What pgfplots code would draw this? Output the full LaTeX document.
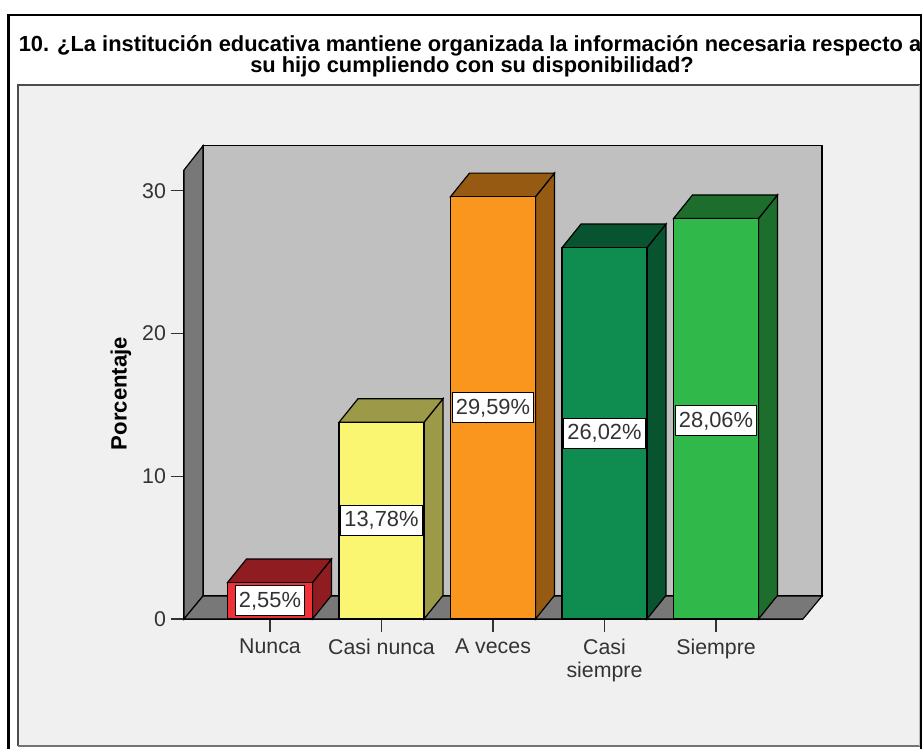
\documentclass[border=0pt]{standalone}
\usepackage{pgfplots}
\pgfplotsset{compat=1.18}
\usepackage{fontspec}
\setmainfont{Liberation Sans}
\definecolor{panel}{HTML}{F0F0F0}
\definecolor{wall}{HTML}{C0C0C0}
\definecolor{floorc}{HTML}{787878}
\definecolor{txt}{HTML}{333333}
\definecolor{redF}{HTML}{F03238}\definecolor{redS}{HTML}{8E1C20}
\definecolor{yelF}{HTML}{FBF672}\definecolor{yelS}{HTML}{9C9A48}
\definecolor{oraF}{HTML}{FA961E}\definecolor{oraS}{HTML}{965A12}
\definecolor{dgrF}{HTML}{0F8C4F}\definecolor{dgrS}{HTML}{085430}
\definecolor{griF}{HTML}{30B84A}\definecolor{griS}{HTML}{1D6E2D}
\begin{document}
\begin{tikzpicture}[x=0.75pt,y=0.75pt]
\fill[white] (0,0) rectangle (922,-749);
\fill[panel] (18,-85) rectangle (920,-746);
\draw[gray!60!black,line width=1.1pt] (18,-746) -- (18,-85) -- (920,-85);
\draw[gray!90!black,line width=1.1pt] (18,-746) -- (920,-746);
\draw[gray!50,line width=1pt] (920,-85) -- (920,-746);
\draw[black,line width=1.8pt] (8.5,-749) -- (8.5,-15) -- (921.5,-15) -- (921.5,-749);
\node[font=\bfseries\fontsize{16.4}{18}\selectfont,anchor=center,inner sep=0pt] at (470,-46) {10. ¿La institución educativa mantiene organizada la información necesaria respecto a};
\node[font=\bfseries\fontsize{16.4}{18}\selectfont,anchor=center,inner sep=0pt] at (472,-67) {su hijo cumpliendo con su disponibilidad?};
\node[font=\bfseries\fontsize{16.6}{18}\selectfont,rotate=90,inner sep=0pt] at (121,-393.5) {Porcentaje};
\begin{axis}[
  at={(138pt,-464.25pt)},anchor=south west,
  scale only axis,width=464.25pt,height=336.75pt,
  xmin=-0.771,xmax=4.780,ymin=0,ymax=31.46,
  clip=false,
  axis x line*=bottom,axis y line*=left,
  axis line style={-,color=black,line width=1pt},
  xtick={0,1,2,3,4},
  xticklabels={Nunca,Casi nunca,A veces,{Casi\\siempre},Siempre},
  ytick={0,10,20,30},
  tick align=outside,major tick length=10pt,
  tick style={color=txt,line width=0.9pt},
  xticklabel style={align=center,font=\fontsize{16}{17}\selectfont,text=txt,text depth=0pt,yshift=-1.5pt},
  yticklabel style={font=\fontsize{16}{17}\selectfont,text=txt},
  /pgf/number format/assume math mode=true,
  every node near coord/.append style={anchor=center,draw=black,fill=white,line width=0.7pt,
    font=\fontsize{16.4}{17}\selectfont,text=txt,inner xsep=2.6pt,inner ysep=0pt,minimum height=22.5pt},
]
% walls and floor
\addplot[fill=wall,draw=black,line width=0.9pt] coordinates {(-0.601,1.61) (4.951,1.61) (4.951,33.15) (-0.601,33.15)} --cycle;
\addplot[fill=floorc,draw=black,line width=0.9pt] coordinates {(-0.771,0) (-0.601,1.61) (-0.601,33.15) (-0.771,31.46)} --cycle;
\addplot[fill=floorc,draw=black,line width=0.9pt] coordinates {(-0.771,0) (-0.601,1.61) (4.951,1.61) (4.780,0)} --cycle;
% sides and tops
\addplot[fill=redS,draw=black,line width=0.9pt] coordinates {(0.381,0) (0.551,1.65) (0.551,4.20) (0.381,2.55)} --cycle;
\addplot[fill=redS,draw=black,line width=0.9pt] coordinates {(-0.381,2.55) (-0.211,4.20) (0.551,4.20) (0.381,2.55)} --cycle;
\addplot[fill=yelS,draw=black,line width=0.9pt] coordinates {(1.381,0) (1.551,1.65) (1.551,15.43) (1.381,13.78)} --cycle;
\addplot[fill=yelS,draw=black,line width=0.9pt] coordinates {(0.619,13.78) (0.789,15.43) (1.551,15.43) (1.381,13.78)} --cycle;
\addplot[fill=oraS,draw=black,line width=0.9pt] coordinates {(2.381,0) (2.551,1.65) (2.551,31.24) (2.381,29.59)} --cycle;
\addplot[fill=oraS,draw=black,line width=0.9pt] coordinates {(1.619,29.59) (1.789,31.24) (2.551,31.24) (2.381,29.59)} --cycle;
\addplot[fill=dgrS,draw=black,line width=0.9pt] coordinates {(3.381,0) (3.551,1.65) (3.551,27.67) (3.381,26.02)} --cycle;
\addplot[fill=dgrS,draw=black,line width=0.9pt] coordinates {(2.619,26.02) (2.789,27.67) (3.551,27.67) (3.381,26.02)} --cycle;
\addplot[fill=griS,draw=black,line width=0.9pt] coordinates {(4.381,0) (4.551,1.65) (4.551,29.71) (4.381,28.06)} --cycle;
\addplot[fill=griS,draw=black,line width=0.9pt] coordinates {(3.619,28.06) (3.789,29.71) (4.551,29.71) (4.381,28.06)} --cycle;
% fronts
\addplot[ybar,bar width=63.75pt,bar shift=0pt,fill=redF,draw=black,line width=0.9pt] coordinates {(0,2.55)};
\addplot[ybar,bar width=63.75pt,bar shift=0pt,fill=yelF,draw=black,line width=0.9pt] coordinates {(1,13.78)};
\addplot[ybar,bar width=63.75pt,bar shift=0pt,fill=oraF,draw=black,line width=0.9pt] coordinates {(2,29.59)};
\addplot[ybar,bar width=63.75pt,bar shift=0pt,fill=dgrF,draw=black,line width=0.9pt] coordinates {(3,26.02)};
\addplot[ybar,bar width=63.75pt,bar shift=0pt,fill=griF,draw=black,line width=0.9pt] coordinates {(4,28.06)};
% value labels
\addplot[draw=none,mark=none,point meta=explicit symbolic,nodes near coords={\pgfplotspointmeta\%}]
 coordinates {(0,1.27)[2,55] (1,6.89)[13,78] (2,14.79)[29,59] (3,13.01)[26,02] (4,13.88)[28,06]};
\end{axis}
\pgfresetboundingbox
\path[use as bounding box] (0,0) rectangle (922,-749);
\end{tikzpicture}
\end{document}
